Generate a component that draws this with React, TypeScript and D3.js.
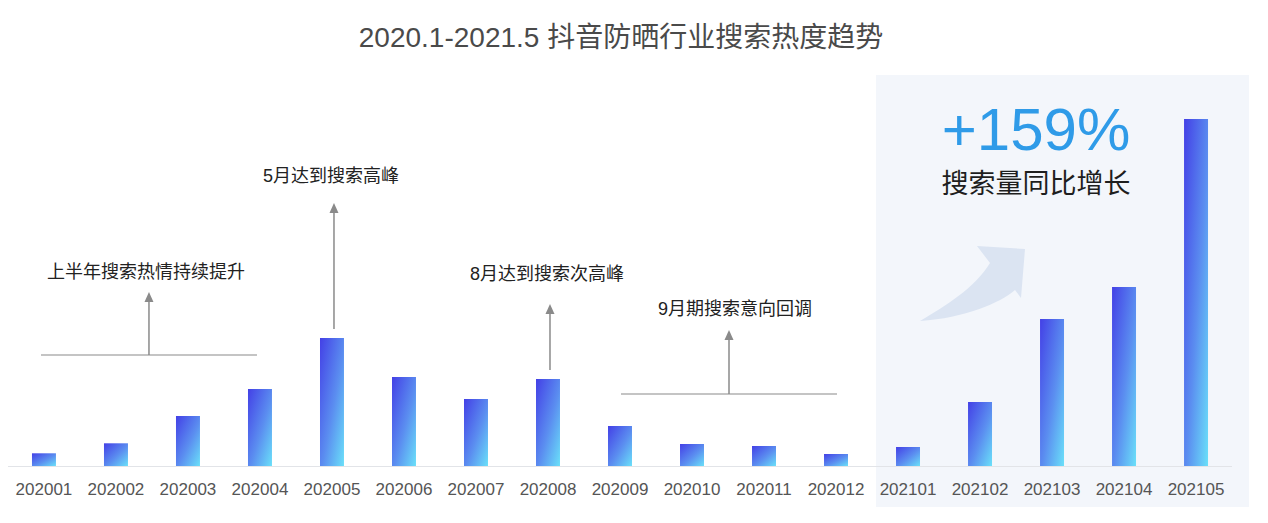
import React from "react";
import * as d3 from "d3";

const categories = [
  "202001", "202002", "202003", "202004", "202005", "202006", "202007", "202008", "202009",
  "202010", "202011", "202012", "202101", "202102", "202103", "202104", "202105",
];
const values = [12.7, 22.7, 50, 77, 128, 89, 67, 87, 40, 22, 20, 12, 19, 64, 147, 179, 347];

const title = "2020.1-2021.5 抖音防晒行业搜索热度趋势";
const growthText = "+159%";
const growthLabel = "搜索量同比增长";

const rangeNotes = [
  { text: "上半年搜索热情持续提升", from: 0, to: 3, lineY: 355, tipY: 292, textY: 278, dx: -3, tdx: -3 },
  { text: "9月期搜索意向回调", from: 8, to: 11, lineY: 394, tipY: 330, textY: 315, dx: 1, tdx: 6 },
];
const barNotes = [
  { text: "5月达到搜索高峰", idx: 4, tipY: 203, textY: 182 },
  { text: "8月达到搜索次高峰", idx: 7, tipY: 304, textY: 280 },
];

const W = 1268;
const H = 523;
const FONT = "'Liberation Sans', Arial, 'Noto Sans CJK SC', sans-serif";

export default function App() {
  const x = d3.scaleBand<string>().domain(categories).range([8, 1232]).paddingInner(0.667).paddingOuter(0.333);
  const y = d3.scaleLinear().domain([0, 350]).range([466, 116]);
  const base = y(0);
  const bw = x.bandwidth();
  const cx = (i: number) => (x(categories[i]) as number) + bw / 2;
  const hl0 = (x(categories[12]) as number) - 20;

  const arrowHead = (ax: number, ty: number) =>
    `M${ax},${ty} L${ax - 4.5},${ty + 10} L${ax + 4.5},${ty + 10} Z`;

  return (
    <svg width={W} height={H} style={{ position: "absolute", left: 0, top: 0, background: "#fff" }}>
      <defs>
        <linearGradient id="barGrad" x1="0" y1="0" x2="1" y2="1">
          <stop offset="0%" stopColor="#4340e6" />
          <stop offset="55%" stopColor="#5b8ef0" />
          <stop offset="100%" stopColor="#6ae0f9" />
        </linearGradient>
      </defs>
      <rect x={hl0} y={75} width={1249 - hl0} height={432} fill="#f3f6fb" />
      <text x={621} y={47} textAnchor="middle" fontSize={28} fill="#4a4a4a" fontFamily={FONT}>
        {title}
      </text>
      <text x={1036} y={150} textAnchor="middle" fontSize={60} fill="#2f9be8" fontFamily={FONT}>
        {growthText}
      </text>
      <text x={1036} y={193} textAnchor="middle" fontSize={27} fill="#1e1e1e" fontFamily={FONT}>
        {growthLabel}
      </text>
      <path
        d="M920,321 C945,306 975,288 990,263 L977,246 L1025,249 L1021,298 L1015,290 C1000,303 965,318 920,321 Z"
        fill="#dbe4f2"
      />
      <line x1={8} x2={1232} y1={base + 0.5} y2={base + 0.5} stroke="#e2e4e8" strokeWidth={1} />
      {values.map((v, i) => (
        <rect
          key={categories[i]}
          x={x(categories[i])}
          y={y(v)}
          width={bw}
          height={base - y(v)}
          fill="url(#barGrad)"
        />
      ))}
      {categories.map((c, i) => (
        <text key={c} x={cx(i)} y={495} textAnchor="middle" fontSize={17} fill="#555" fontFamily={FONT}>
          {c}
        </text>
      ))}
      {rangeNotes.map((n) => {
        const x1 = cx(n.from) + n.dx;
        const x2 = cx(n.to) + n.dx;
        const mx = (x1 + x2) / 2;
        return (
          <g key={n.text}>
            <line x1={x1} x2={x2} y1={n.lineY} y2={n.lineY} stroke="#8a8a8a" strokeWidth={1.2} />
            <line x1={mx} x2={mx} y1={n.lineY} y2={n.tipY + 8} stroke="#8a8a8a" strokeWidth={1.5} />
            <path d={arrowHead(mx, n.tipY)} fill="#8a8a8a" />
            <text x={mx + n.tdx} y={n.textY} textAnchor="middle" fontSize={18} fill="#222" fontFamily={FONT}>
              {n.text}
            </text>
          </g>
        );
      })}
      {barNotes.map((n) => {
        const ax = cx(n.idx) + 2;
        const startY = y(values[n.idx]) - 9;
        return (
          <g key={n.text}>
            <line x1={ax} x2={ax} y1={startY} y2={n.tipY + 8} stroke="#8a8a8a" strokeWidth={1.5} />
            <path d={arrowHead(ax, n.tipY)} fill="#8a8a8a" />
            <text x={ax - 3} y={n.textY} textAnchor="middle" fontSize={18} fill="#222" fontFamily={FONT}>
              {n.text}
            </text>
          </g>
        );
      })}
    </svg>
  );
}
